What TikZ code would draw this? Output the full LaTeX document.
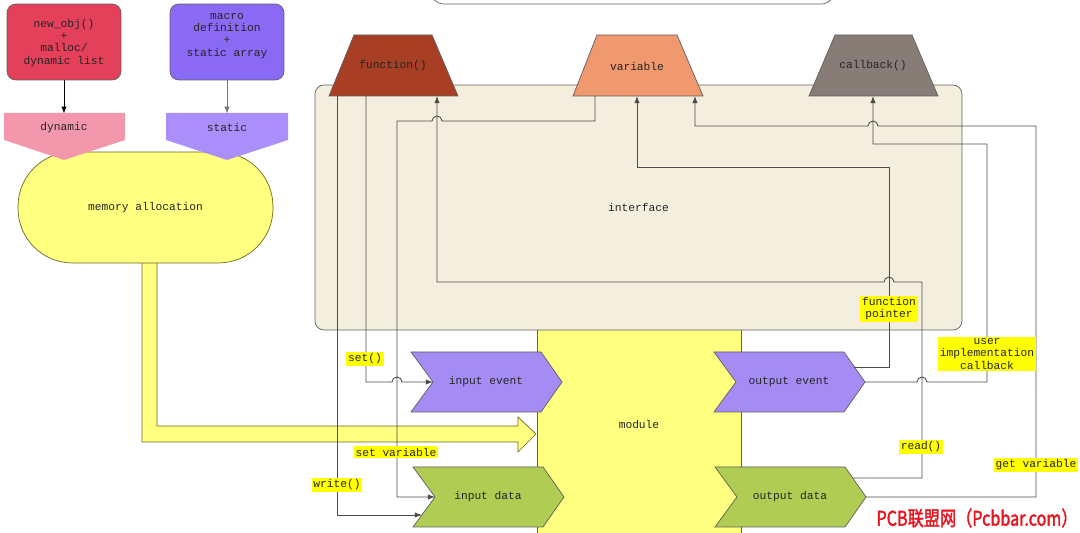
\documentclass[tikz,border=0pt]{standalone}
\usepackage{fontspec}
\usepackage{graphicx}
\setmonofont{Liberation Mono}
\newfontfamily\cjkfont[FakeBold=2]{Noto Sans CJK SC}
\usetikzlibrary{arrows.meta}

\definecolor{objred}{RGB}{228,64,90}
\definecolor{macropurple}{RGB}{138,106,245}
\definecolor{dynpink}{RGB}{243,152,172}
\definecolor{statpurple}{RGB}{170,142,250}
\definecolor{memyellow}{RGB}{255,255,128}
\definecolor{ifbeige}{RGB}{243,238,222}
\definecolor{fnbrown}{RGB}{168,62,36}
\definecolor{varorange}{RGB}{240,152,110}
\definecolor{cbgray}{RGB}{135,125,118}
\definecolor{evpurple}{RGB}{165,140,245}
\definecolor{datagreen}{RGB}{176,204,82}
\definecolor{lblyellow}{RGB}{255,255,0}
\definecolor{wmred}{RGB}{230,20,30}
\definecolor{edgegray}{RGB}{95,95,95}

\newcommand{\txtsize}{\fontsize{6.4}{6.9}\selectfont}

\begin{document}
\begin{tikzpicture}[x=0.02cm,y=-0.02cm,
  txt/.style={font=\ttfamily\txtsize,text=black!85,align=center,inner sep=0pt},
  box/.style={draw=edgegray,line width=0.4pt,rounded corners=5pt,minimum width=2.28cm,minimum height=1.52cm},
  flat/.style={draw=edgegray,line width=0.4pt},
  conn/.style={draw=black!70,line width=0.5pt},
  arr/.style={conn,-{Latex[length=4pt,width=3pt]}},
  tag/.style={txt,fill=lblyellow,inner xsep=1pt,inner ysep=1.2pt}]

\useasboundingbox (0,0) rectangle (1080,533);
\clip (0,0) rectangle (1080,533);

% box cut off at the top
\draw[flat,fill=white,rounded corners=8pt] (430,-40) rectangle (835,4);

% memory allocation with its fat arrow
\draw[flat,draw=olive!70!black,fill=memyellow] (142,240) -- (142,442) -- (518,442) -- (518,452) -- (536,434) -- (518,417) -- (518,426) -- (157,426) -- (157,240) -- cycle;
\node[txt,draw=olive!70!black,fill=memyellow,rounded corners=31pt,minimum width=5.1cm,minimum height=2.22cm] (mem) at (145.5,207.5) {memory allocation};

\fill[dynpink] (4,113) -- (125,113) -- (125,140) -- (64,160) -- (4,140) -- cycle;
\node[txt,minimum width=2.42cm,minimum height=0.54cm] (dyn) at (64,127.5) {dynamic};
\fill[statpurple] (166,113) -- (288,113) -- (288,140) -- (227,160) -- (166,140) -- cycle;
\node[txt,minimum width=2.44cm,minimum height=0.54cm] (stat) at (227,127.5) {static};

\node[box,fill=objred] (newobj) at (64,42) {};
\node[txt] (newobjtxt) at (64,43) {new\_obj()\\+\\malloc/\\dynamic list};
\node[box,fill=macropurple] (macro) at (227,42) {};
\node[txt] (macrotxt) at (227,36) {macro\\definition\\+\\static array};

\draw[arr,draw=black] (newobj) -- (dyn);
\draw[arr,draw=black!55] (macro) -- (stat);

% module and interface
\node[txt,flat,fill=memyellow,minimum width=4.08cm,minimum height=4.32cm] (module) at (639,425) {module};
\node[txt,flat,fill=ifbeige,rounded corners=5pt,minimum width=12.94cm,minimum height=4.9cm] (iface) at (638.5,207.5) {interface};

% draw trapezoids
\draw[flat,fill=fnbrown] (329,96) -- (354,35) -- (432,35) -- (458,96) -- cycle;
\node[txt] (fn) at (393,66) {function()};
\draw[flat,fill=varorange] (573,96) -- (597,35) -- (677,35) -- (703,96) -- cycle;
\node[txt] (var) at (637,66) {variable};
\draw[flat,fill=cbgray] (809,96) -- (835,35) -- (912,35) -- (938,96) -- cycle;
\node[txt] (cb) at (873,66) {callback()};

% draw chevrons
\draw[flat,fill=evpurple] (411,352) -- ++(130,0) -- ++(21,30) -- ++(-21,30) -- ++(-130,0) -- ++(22,-30) -- cycle;
\node[txt] (inev) at (486,382) {input event};
\draw[flat,fill=datagreen] (413,467) -- ++(130,0) -- ++(21,30) -- ++(-21,30) -- ++(-130,0) -- ++(22,-30) -- cycle;
\node[txt] (indata) at (488,497) {input data};
\draw[flat,fill=evpurple] (714,352) -- ++(130,0) -- ++(21,30) -- ++(-21,30) -- ++(-130,0) -- ++(22,-30) -- cycle;
\node[txt] (outev) at (789,382) {output event};
\draw[flat,fill=datagreen] (715,467) -- ++(130,0) -- ++(21,30) -- ++(-21,30) -- ++(-130,0) -- ++(22,-30) -- cycle;
\node[txt] (outdata) at (790,497) {output data};

% ports
\coordinate (fnW) at (337,96);
\coordinate (fnS) at (366,96);
\coordinate (fnR) at (437,96);
\coordinate (varS) at (595,96);
\coordinate (varP) at (637,96);
\coordinate (varG) at (695,96);
\coordinate (cbC) at (873,96);
\coordinate (ieN) at (433,382);
\coordinate (idN) at (435,497);
\coordinate (idW) at (422,515);
\coordinate (oeP) at (854,367);
\coordinate (oeT) at (865,382);
\coordinate (odR) at (853,478);
\coordinate (odT) at (866,497);

% draw connectors
\draw[arr] (fnW) |- (idW);
\draw[arr] (fnS) -- (366,382) -- (392,382) arc[start angle=180,end angle=0,radius=0.1cm] -- (ieN);
\draw[arr] (varS) -- (595,121) -- (442,121) arc[start angle=0,end angle=180,radius=0.1cm] -- (397,121) |- (idN);
\draw[arr] (odR) -| (922,282) -- (894,282) arc[start angle=0,end angle=180,radius=0.1cm] -- (437,282) -- (fnR);
\draw[arr] (oeP) -| (889,167) -| (varP);
\draw[arr] (oeT) -- (917,382) arc[start angle=180,end angle=0,radius=0.1cm] -- (987,382) -- (987,144) -| (cbC);
\draw[arr] (odT) -| (1036,126) -- (878,126) arc[start angle=0,end angle=180,radius=0.1cm] -- (695,126) -- (varG);

% labels
\node[tag] (lset) at (365,359) {set()};
\node[tag] (lsetvar) at (396,452) {set variable};
\node[tag] (lwrite) at (337,485) {write()};
\node[tag] (lfp) at (889,309) {function\\pointer};
\node[tag] (lucb) at (987,354) {user\\implementation\\callback};
\node[tag] (lread) at (921,447) {read()};
\node[tag] (lget) at (1036,465) {get variable};

\node[font=\cjkfont\fontsize{11.5}{11.5}\selectfont,text=wmred,inner sep=0pt] (wm) at (977,518) {\scalebox{0.8}[1]{PCB联盟网（Pcbbar.com）}};

\end{tikzpicture}
\end{document}
